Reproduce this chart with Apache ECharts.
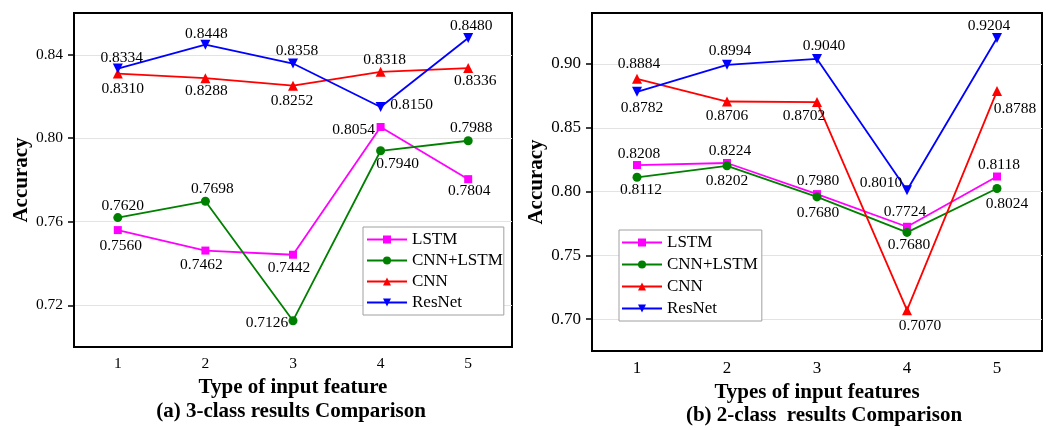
<!DOCTYPE html>
<html>
<head>
<meta charset="utf-8">
<script src="https://cdn.jsdelivr.net/npm/echarts@6/dist/echarts.min.js"></script>
<style>
  html, body { margin: 0; padding: 0; background: #fff; }
  #chart { width: 1052px; height: 430px; }
</style>
</head>
<body>
<div id="chart"></div>
<script>
// Data
const categories = ['1', '2', '3', '4', '5'];
const seriesNames = ['LSTM', 'CNN+LSTM', 'CNN', 'ResNet'];

// (a) 3-class
const lstmA = [0.7560, 0.7462, 0.7442, 0.8054, 0.7804];
const cnnLstmA = [0.7620, 0.7698, 0.7126, 0.7940, 0.7988];
const cnnA = [0.8310, 0.8288, 0.8252, 0.8318, 0.8336];
const resnetA = [0.8334, 0.8448, 0.8358, 0.8150, 0.8480];
const yTicksA = [0.72, 0.76, 0.80, 0.84];

// (b) 2-class
const lstmB = [0.8208, 0.8224, 0.7980, 0.7724, 0.8118];
const cnnLstmB = [0.8112, 0.8202, 0.7958, 0.7680, 0.8024];
const cnnB = [0.8884, 0.8706, 0.8702, 0.7070, 0.8788];
const resnetB = [0.8782, 0.8994, 0.9040, 0.8010, 0.9204];
const yTicksB = [0.70, 0.75, 0.80, 0.85, 0.90];
// the figure prints 0.7680 next to the 3rd CNN+LSTM point
const cnnLstmBText = ['0.8112', '0.8202', '0.7680', '0.7680', '0.8024'];

// label offsets (px from the point), layout only
const offsA = {
  'LSTM': [[3, 16], [-4, 14], [-4, 13], [-27, 3], [1, 12]],
  'CNN+LSTM': [[5, -12], [7, -12], [-26, 2], [17, 13], [3, -13]],
  'CNN': [[5, 15], [1, 13], [-1, 15], [4, -12], [7, 13]],
  'ResNet': [[4, -11], [1, -11], [4, -13], [31, -2], [3, -12]]
};
const offsB = {
  'LSTM': [[2, -11], [3, -12], [1, -13], [-2, -15], [2, -12]],
  'CNN+LSTM': [[4, 13], [0, 15], [1, 16], [2, 13], [10, 15]],
  'CNN': [[2, -15], [0, 14], [-13, 14], [13, 16], [18, 18]],
  'ResNet': [[5, 16], [3, -14], [7, -13], [-26, -7], [-8, -12]]
};

const chart = echarts.init(document.getElementById('chart'), null, { renderer: 'canvas' });
const FONT = 'Liberation Serif';

const styles = {
  'LSTM': { color: '#ff00ff', symbol: 'rect', size: 8, rotate: 0 },
  'CNN+LSTM': { color: '#008000', symbol: 'circle', size: 9, rotate: 0 },
  'CNN': { color: '#ff0000', symbol: 'triangle', size: 10, rotate: 0 },
  'ResNet': { color: '#0000ff', symbol: 'triangle', size: 10, rotate: 180 }
};

function makeSeries(name, values, offsets, idx, texts) {
  const s = styles[name];
  return {
    name: name,
    type: 'line',
    xAxisIndex: idx,
    yAxisIndex: idx,
    symbol: s.symbol,
    symbolSize: s.size,
    symbolRotate: s.rotate,
    showAllSymbol: true,
    lineStyle: { color: s.color, width: 1.8 },
    itemStyle: { color: s.color },
    label: {
      show: true,
      position: 'inside',
      color: '#000',
      fontFamily: FONT,
      fontSize: 15.5,
      textBorderWidth: 0
    },
    emphasis: { disabled: true },
    data: values.map((v, i) => ({
      value: v,
      label: { offset: offsets[i], formatter: texts ? texts[i] : v.toFixed(4) }
    }))
  };
}

function makeXAxis(idx, name, gap, fs) {
  return {
    type: 'category',
    gridIndex: idx,
    data: categories,
    boundaryGap: true,
    name: name,
    nameLocation: 'middle',
    nameGap: gap,
    nameTextStyle: { fontFamily: FONT, fontWeight: 'bold', fontSize: 21, color: '#000', verticalAlign: 'middle' },
    axisLine: { lineStyle: { color: '#000', width: 2 } },
    axisTick: { alignWithLabel: true, length: 6, lineStyle: { color: '#000', width: 1.5 } },
    axisLabel: { color: '#000', fontFamily: FONT, fontSize: fs, margin: 9 },
    splitLine: { show: false }
  };
}

function makeYAxis(idx, min, max, ticks, gap, fs) {
  return {
    type: 'value',
    gridIndex: idx,
    min: min,
    max: max,
    name: 'Accuracy',
    nameLocation: 'middle',
    nameGap: gap,
    nameRotate: 90,
    nameTextStyle: { fontFamily: FONT, fontWeight: 'bold', fontSize: 21, color: '#000' },
    axisLine: { show: true, lineStyle: { color: '#000', width: 2 } },
    axisTick: { show: true, length: 6, customValues: ticks, lineStyle: { color: '#000', width: 1.5 } },
    axisLabel: {
      color: '#000', fontFamily: FONT, fontSize: fs, margin: 11,
      customValues: ticks,
      formatter: v => v.toFixed(2)
    },
    splitLine: { show: true, lineStyle: { color: '#e3e3e3', width: 1 } }
  };
}

function makeLegend(left, top, pad, gap) {
  return {
    orient: 'vertical',
    left: left,
    top: top,
    data: seriesNames,
    itemWidth: 40,
    itemHeight: 10,
    itemGap: gap,
    padding: pad,
    borderColor: '#a0a0a0',
    borderWidth: 1,
    backgroundColor: '#fff',
    selectedMode: false,
    textStyle: { fontFamily: FONT, fontSize: 17, color: '#000', lineHeight: 17 }
  };
}

const options = {
  animation: false,
  backgroundColor: '#fff',
  grid: [
    { left: 74, right: 540, top: 13, bottom: 83, show: true, borderColor: '#000', borderWidth: 2 },
    { left: 592, right: 10, top: 13, bottom: 79, show: true, borderColor: '#000', borderWidth: 2 }
  ],
  xAxis: [
    makeXAxis(0, 'Type of input feature', 36, 15.5),
    makeXAxis(1, 'Types of input features', 37, 17)
  ],
  yAxis: [
    makeYAxis(0, 0.70, 0.86, yTicksA, 40, 15.5),
    makeYAxis(1, 0.675, 0.94, yTicksB, 41, 17)
  ],
  legend: [
    makeLegend(363, 227, [4, 1, 4, 3], 4),
    makeLegend(619, 230, [4, 4, 4, 2], 5)
  ],
  graphic: [
    { type: 'text', x: 291, y: 412, style: { text: '(a) 3-class results Comparison', font: 'bold 21px "Liberation Serif"', fill: '#000', textAlign: 'center', textVerticalAlign: 'middle' } },
    { type: 'text', x: 824, y: 416, style: { text: '(b) 2-class  results Comparison', font: 'bold 21px "Liberation Serif"', fill: '#000', textAlign: 'center', textVerticalAlign: 'middle' } }
  ],
  series: [
    makeSeries('LSTM', lstmA, offsA['LSTM'], 0),
    makeSeries('CNN+LSTM', cnnLstmA, offsA['CNN+LSTM'], 0),
    makeSeries('CNN', cnnA, offsA['CNN'], 0),
    makeSeries('ResNet', resnetA, offsA['ResNet'], 0),
    makeSeries('LSTM', lstmB, offsB['LSTM'], 1),
    makeSeries('CNN+LSTM', cnnLstmB, offsB['CNN+LSTM'], 1, cnnLstmBText),
    makeSeries('CNN', cnnB, offsB['CNN'], 1),
    makeSeries('ResNet', resnetB, offsB['ResNet'], 1)
  ]
};

chart.setOption(options);
</script>
</body>
</html>
